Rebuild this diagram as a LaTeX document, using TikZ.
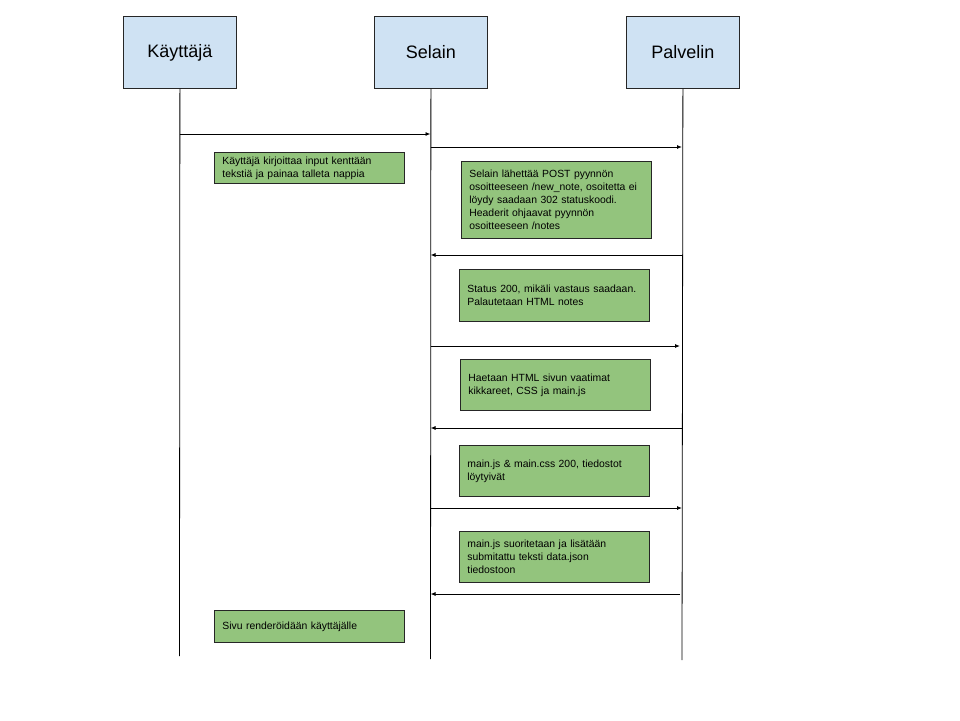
\documentclass[tikz,border=0pt]{standalone}
\usepackage{fontspec}
\setmainfont{Liberation Sans}
\usetikzlibrary{arrows.meta}
\definecolor{hdrblue}{HTML}{CFE2F3}
\definecolor{notegreen}{HTML}{93C47D}
\begin{document}
\begin{tikzpicture}[x=1pt,y=-1pt,
  actor/.style={draw=black!85,line width=0.8pt,fill=hdrblue,minimum width=113pt,minimum height=72pt,inner sep=0pt,anchor=north west,font=\fontsize{18}{22}\selectfont},
  note/.style={draw=black!85,line width=0.8pt,fill=notegreen,anchor=north west,inner xsep=8pt,inner ysep=0pt,minimum width=190pt,text width=174pt,align=left,font=\fontsize{10.4}{13}\selectfont},
  life/.style={line width=0.8pt,black},
  msg/.style={line width=0.9pt,black,-{Latex[length=5pt,width=4pt]}}]
\useasboundingbox (0,0) rectangle (960,720);
\fill[white] (0,0) rectangle (960,720);
% actors
\node[actor] (u) at (123,16) {Käyttäjä};
\node[actor] (b) at (374,16) {Selain};
\node[actor] (s) at (626,16) {Palvelin};
% lifeline ends
\coordinate (ue) at (179.5,656);
\coordinate (be) at (430.5,659);
\coordinate (se) at (682,660);
\draw[life] (u.south) -- (ue);
\draw[life] (b.south) -- (be);
\draw[life] (s.south) -- (se);
% message anchor points
\coordinate (m1a) at (179.5,134); \coordinate (m1b) at (430.5,134);
\coordinate (m2a) at (430.5,147); \coordinate (m2b) at (682,147);
\coordinate (m3a) at (682,255);   \coordinate (m3b) at (430.5,255);
\coordinate (m4a) at (430.5,346); \coordinate (m4b) at (680,346);
\coordinate (m5a) at (682,428);   \coordinate (m5b) at (430.5,428);
\coordinate (m6a) at (430.5,508); \coordinate (m6b) at (682,508);
\coordinate (m7a) at (680,594);   \coordinate (m7b) at (430.5,594);
\draw[msg] (m1a) -- (m1b);
\draw[msg] (m2a) -- (m2b);
\draw[msg] (m3a) -- (m3b);
\draw[msg] (m4a) -- (m4b);
\draw[msg] (m5a) -- (m5b);
\draw[msg] (m6a) -- (m6b);
\draw[msg] (m7a) -- (m7b);
% notes
\node[note,minimum height=31pt] (n1) at (214,152) {Käyttäjä kirjoittaa input kenttään\\tekstiä ja painaa talleta nappia};
\node[note,minimum height=77pt] (n2) at (461,161) {Selain lähettää POST pyynnön\\osoitteeseen /new\_note, osoitetta ei\\löydy saadaan 302 statuskoodi.\\Headerit ohjaavat pyynnön\\osoitteeseen /notes};
\node[note,minimum height=52pt] (n3) at (459,269) {Status 200, mikäli vastaus saadaan.\\Palautetaan HTML notes};
\node[note,minimum height=51pt] (n4) at (460,359) {Haetaan HTML sivun vaatimat\\kikkareet, CSS ja main.js};
\node[note,minimum height=51pt] (n5) at (459,445) {main.js \& main.css 200, tiedostot\\löytyivät};
\node[note,minimum height=51pt] (n6) at (459,531) {main.js suoritetaan ja lisätään\\submitattu teksti data.json\\tiedostoon};
\node[note,minimum height=32pt] (n7) at (214,610) {Sivu renderöidään käyttäjälle};
\end{tikzpicture}
\end{document}
